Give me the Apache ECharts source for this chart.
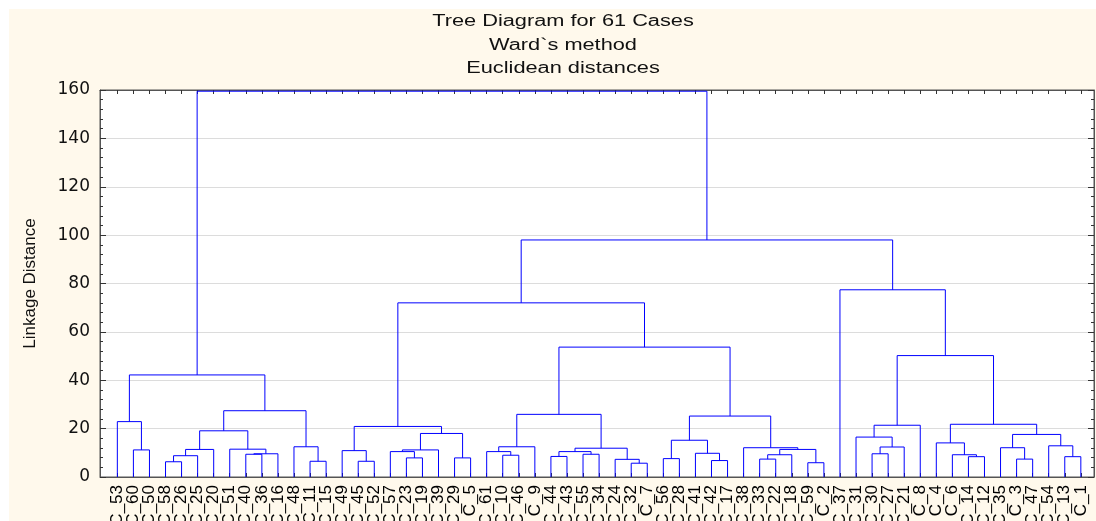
<!DOCTYPE html>
<html>
<head>
<meta charset="utf-8">
<script src="https://cdn.jsdelivr.net/npm/echarts@6/dist/echarts.min.js"></script>
<style>
  html, body { margin: 0; padding: 0; background: #fff; }
  #chart { width: 1096px; height: 521px; }
</style>
</head>
<body>
<div id="chart"></div>
<script>
// case names in the order the leaves sit along the bottom axis
var leafNames = [
  "C_53", "C_60", "C_50", "C_58", "C_26", "C_25", "C_20", "C_51", "C_40", "C_36",
  "C_16", "C_48", "C_11", "C_15", "C_49", "C_45", "C_52", "C_57", "C_23", "C_19",
  "C_39", "C_29", "C_5", "C_61", "C_10", "C_46", "C_9", "C_44", "C_43", "C_55",
  "C_34", "C_24", "C_32", "C_7", "C_56", "C_28", "C_41", "C_42", "C_17", "C_38",
  "C_33", "C_22", "C_18", "C_59", "C_2", "C_37", "C_31", "C_30", "C_27", "C_21",
  "C_8", "C_4", "C_6", "C_14", "C_12", "C_35", "C_3", "C_47", "C_54", "C_13",
  "C_1"
];

// merge k joins nodes mergeA[k] and mergeB[k] at linkage distance mergeHeight[k]
// node ids 0..60 are leaves (by position), node id 61 + k is merge k
var mergeA = [
  1, 0, 3, 63, 64, 8, 66, 7, 65, 12,
  11, 69, 62, 15, 14, 18, 17, 77, 21, 78,
  75, 24, 23, 83, 27, 29, 85, 32, 31, 87,
  84, 34, 37, 36, 92, 40, 96, 43, 97, 39,
  95, 91, 81, 47, 104, 46, 106, 53, 52, 51,
  56, 55, 59, 58, 112, 110, 107, 45, 103, 73
];
var mergeB = [
  2, 61, 4, 5, 6, 9, 10, 67, 68, 13,
  70, 71, 72, 16, 74, 19, 76, 20, 22, 79,
  80, 25, 82, 26, 28, 30, 86, 33, 88, 89,
  90, 35, 38, 93, 94, 41, 42, 44, 98, 99,
  100, 101, 102, 48, 49, 105, 50, 54, 108, 109,
  57, 111, 60, 113, 114, 115, 116, 117, 118, 119
];
var mergeHeight = [
  11.2, 22.9, 6.3, 8.8, 11.4, 9.4, 9.6, 11.5, 19.1, 6.5,
  12.5, 27.4, 42.2, 6.5, 10.9, 7.9, 10.5, 11.2, 7.9, 18.0,
  20.9, 9.0, 10.5, 12.5, 8.5, 9.4, 10.5, 5.7, 7.3, 11.9,
  25.9, 7.6, 6.8, 9.8, 15.2, 7.4, 9.2, 5.9, 11.4, 12.1,
  25.2, 53.7, 72.0, 9.6, 12.4, 16.5, 21.4, 8.4, 9.2, 14.1,
  7.4, 12.1, 8.4, 12.9, 17.6, 21.8, 50.2, 77.4, 98.0, 159.5
];

var titleLines = ["Tree Diagram for 61 Cases", "Ward`s method", "Euclidean distances"];

var nLeaf = leafNames.length;
var nodeX = [], nodeH = [];
for (var i = 0; i < nLeaf; i++) { nodeX.push(i); nodeH.push(0); }
var links = [];
for (var k = 0; k < mergeA.length; k++) {
  var a = mergeA[k], b = mergeB[k], h = mergeHeight[k];
  links.push({
    coords: [[nodeX[a], nodeH[a]], [nodeX[a], h], [nodeX[b], h], [nodeX[b], nodeH[b]]],
    lineStyle: { color: "#0000ff" }
  });
  nodeX.push((nodeX[a] + nodeX[b]) / 2);
  nodeH.push(h);
}
var leafIdx = leafNames.map(function (n, i) { return i; });

var chart = echarts.init(document.getElementById("chart"));
var font = "'Liberation Sans', Arial, sans-serif";

// plot frame spans x 100..1094; leaves sit one unit apart starting at 117.3px
var gridLeft = 100, gridRight = 2, gridTop = 90, gridBottom = 44;
var xMin = -1.08, xMax = 60.82;
var unitPx = (1096 - gridLeft - gridRight) / (xMax - xMin);
var labelLeft = gridLeft + (0 - xMin) * unitPx - unitPx / 2;
var labelRight = 1096 - labelLeft - nLeaf * unitPx;

// the original picture is stretched sideways, so the title is widened too
var titleText = titleLines.map(function (t, i) {
  return {
    type: "text", x: 563, y: 22 + i * 23.5, scaleX: 1.36, silent: true,
    style: { text: t, font: "16px " + font, fill: "#111", align: "center", verticalAlign: "middle" }
  };
});

chart.setOption({
  animation: false,
  backgroundColor: "#fff9ec",
  graphic: [
    { type: "rect", shape: { x: 0, y: 0, width: 1096, height: 9 }, style: { fill: "#fff" }, silent: true },
    { type: "rect", shape: { x: 0, y: 0, width: 9, height: 521 }, style: { fill: "#fff" }, silent: true }
  ].concat(titleText),
  grid: [
    {
      left: gridLeft, right: gridRight, top: gridTop, bottom: gridBottom,
      containLabel: false, outerBoundsMode: "none",
      show: true, backgroundColor: "#fff", borderColor: "#555", borderWidth: 1
    },
    {
      // label band: one category per leaf, centred on the leaf positions
      left: labelLeft, right: labelRight, top: gridTop, bottom: gridBottom,
      containLabel: false, outerBoundsMode: "none", show: false
    }
  ],
  xAxis: [
    {
      type: "value", min: xMin, max: xMax, position: "bottom", gridIndex: 0,
      axisLine: { show: true, onZero: false, lineStyle: { color: "#555" } },
      axisTick: { show: true, inside: true, length: 4, customValues: leafIdx, lineStyle: { color: "#333" } },
      axisLabel: { show: false },
      splitLine: { show: false }
    },
    {
      type: "value", min: xMin, max: xMax, position: "top", gridIndex: 0,
      axisLine: { show: true, onZero: false, lineStyle: { color: "#555" } },
      axisTick: { show: true, inside: true, length: 4, customValues: leafIdx, lineStyle: { color: "#333" } },
      axisLabel: { show: false },
      splitLine: { show: false }
    },
    {
      type: "category", data: leafNames, position: "bottom", gridIndex: 1,
      axisLine: { show: false }, axisTick: { show: false },
      axisLabel: { interval: 0, rotate: 90, margin: 8, fontSize: 17, fontFamily: font, color: "#000" },
      splitLine: { show: false }
    }
  ],
  yAxis: [
    {
      type: "value", min: 0, max: 160, interval: 20, position: "left", gridIndex: 0,
      name: "Linkage Distance", nameLocation: "middle", nameGap: 61,
      nameTextStyle: { fontSize: 17, fontFamily: font, color: "#111" },
      axisLine: { show: true, onZero: false, lineStyle: { color: "#555" } },
      axisTick: { show: true, inside: true, length: 6, lineStyle: { color: "#333" } },
      minorTick: { show: true, splitNumber: 5, length: 3, lineStyle: { color: "#333" } },
      axisLabel: { fontSize: 17, fontFamily: "'DejaVu Sans', sans-serif", color: "#111", margin: 10 },
      splitLine: { show: true, lineStyle: { color: "#dcdcdc" } }
    },
    {
      type: "value", min: 0, max: 160, interval: 20, position: "right", gridIndex: 0,
      axisLine: { show: true, onZero: false, lineStyle: { color: "#555" } },
      axisTick: { show: true, inside: true, length: 6, lineStyle: { color: "#333" } },
      minorTick: { show: true, splitNumber: 5, length: 3, lineStyle: { color: "#333" } },
      axisLabel: { show: false },
      splitLine: { show: false }
    },
    { type: "value", gridIndex: 1, show: false }
  ],
  series: [
    {
      type: "lines",
      coordinateSystem: "cartesian2d",
      xAxisIndex: 0, yAxisIndex: 0,
      polyline: true,
      silent: true,
      lineStyle: { color: "#0000ff", width: 1, opacity: 1 },
      data: links
    }
  ]
});
</script>
</body>
</html>
